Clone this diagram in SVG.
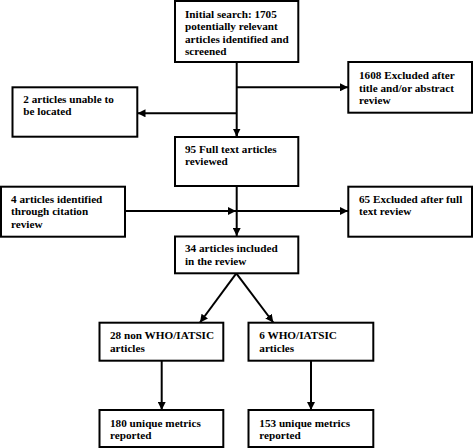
<svg xmlns="http://www.w3.org/2000/svg" width="473" height="448" viewBox="0 0 473 448">
<defs>
<marker id="ah" viewBox="0 0 10 10" refX="10" refY="5" markerWidth="4" markerHeight="4" markerUnits="strokeWidth" orient="auto">
<path d="M0,0 L10,5 L0,10 Z" fill="#000"/>
</marker>
<style>
rect{fill:#fff;stroke:#000;stroke-width:2}
text{font-family:"Liberation Serif","Times New Roman",serif;font-weight:bold;font-size:11.2px;fill:#000}
#connectors line{stroke:#000;stroke-width:2;fill:none}
.a{marker-end:url(#ah)}
</style>
</defs>
<rect width="473" height="448" style="fill:#fff;stroke:none"/>
<g id="connectors">
<line x1="236.7" y1="62" x2="236.7" y2="137"/>
<line x1="236.7" y1="87.3" x2="348" y2="87.3" class="a"/>
<line x1="236.7" y1="113.3" x2="137.5" y2="113.3" class="a"/>
<line x1="236.7" y1="129" x2="236.7" y2="136.5" class="a"/>
<line x1="236.7" y1="186" x2="236.7" y2="236" class="a"/>
<line x1="125" y1="211" x2="236" y2="211" class="a"/>
<line x1="236.7" y1="211" x2="348" y2="211" class="a"/>
<line x1="236.3" y1="273.3" x2="200" y2="322.5" class="a"/>
<line x1="236.3" y1="273.3" x2="273.3" y2="322.5" class="a"/>
<line x1="161.7" y1="360.7" x2="161.7" y2="410" class="a"/>
<line x1="311" y1="360.7" x2="311" y2="410" class="a"/>
</g>
<g id="n1"><rect x="175" y="1" width="123.3" height="61"/>
<text x="185" y="17.5">Initial search: 1705</text>
<text x="185" y="30">potentially relevant</text>
<text x="185" y="42.5">articles identified and</text>
<text x="185" y="55">screened</text></g>
<g id="n2"><rect x="348.3" y="62" width="123.7" height="50.7"/>
<text x="359" y="79">1608 Excluded after</text>
<text x="359" y="91.5">title and/or abstract</text>
<text x="359" y="104">review</text></g>
<g id="n3"><rect x="12.5" y="87.3" width="124.8" height="49.4"/>
<text x="23.3" y="102.7">2 articles unable to</text>
<text x="23.3" y="115.2">be located</text></g>
<g id="n4"><rect x="175" y="137" width="123.3" height="49"/>
<text x="185" y="152.5">95 Full text articles</text>
<text x="185" y="165">reviewed</text></g>
<g id="n5"><rect x="1" y="186.7" width="124" height="50"/>
<text x="11" y="202.7">4 articles identified</text>
<text x="11" y="215.2">through citation</text>
<text x="11" y="227.7">review</text></g>
<g id="n6"><rect x="348.3" y="186.7" width="123.7" height="50"/>
<text x="359" y="202.7">65 Excluded after full</text>
<text x="359" y="215.2">text review</text></g>
<g id="n7"><rect x="175" y="236.5" width="123.3" height="36.8"/>
<text x="185" y="252.3">34 articles included</text>
<text x="185" y="264.8">in the review</text></g>
<g id="n8"><rect x="99.5" y="322.7" width="123.8" height="38"/>
<text x="110" y="339.3">28 non WHO/IATSIC</text>
<text x="110" y="351.8">articles</text></g>
<g id="n9"><rect x="248.5" y="322.7" width="124.8" height="38"/>
<text x="259.3" y="339.3">6 WHO/IATSIC</text>
<text x="259.3" y="351.8">articles</text></g>
<g id="n10"><rect x="99.5" y="410" width="123.8" height="37"/>
<text x="110" y="426.7">180 unique metrics</text>
<text x="110" y="439.2">reported</text></g>
<g id="n11"><rect x="248.5" y="410" width="124.8" height="37"/>
<text x="259.3" y="426.7">153 unique metrics</text>
<text x="259.3" y="439.2">reported</text></g>
</svg>
